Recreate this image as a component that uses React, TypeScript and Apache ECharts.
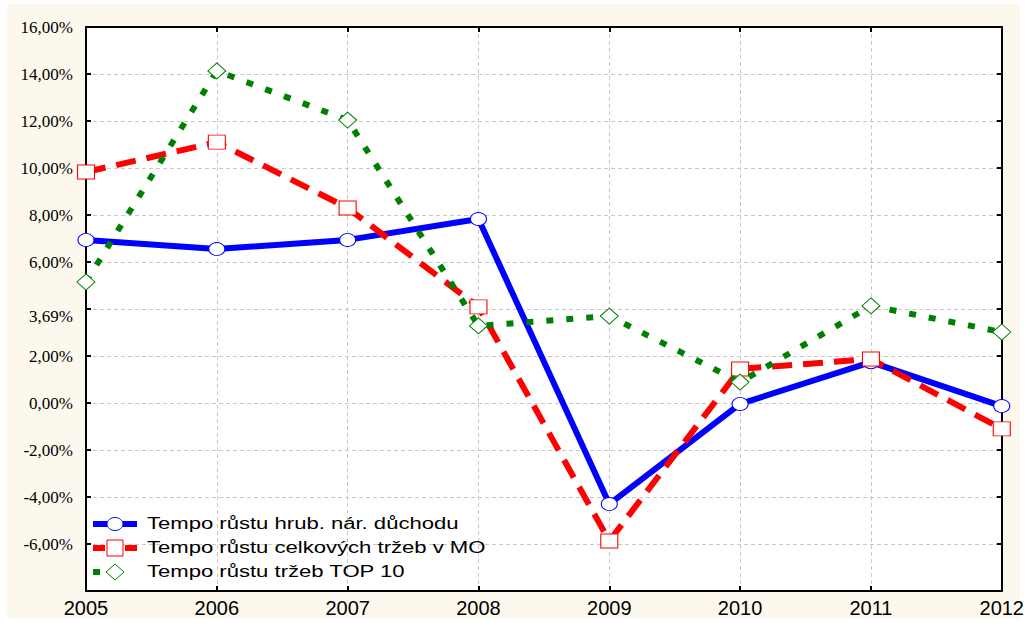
import React, { useEffect, useRef } from "react";
import * as echarts from "echarts";

const years = ["2005", "2006", "2007", "2008", "2009", "2010", "2011", "2012"];
const seriesNames = [
  "Tempo růstu hrub. nár. důchodu",
  "Tempo růstu celkových tržeb v MO",
  "Tempo růstu tržeb TOP 10",
];
const hndValues = [6.94, 6.55, 6.94, 7.83, -4.3, -0.04, 1.74, -0.13];
const moValues = [9.83, 11.1, 8.3, 4.09, -5.87, 1.45, 1.87, -1.1];
const top10Values = [5.15, 14.13, 12.04, 3.28, 3.7, 0.89, 4.13, 3.02];
const yMin = -8;
const yMax = 16;
const yStep = 2;

const fmtY = (v: number) =>
  v === yMin ? "" : v === 4 ? "{low|3,69%}" : "{n|" + v.toFixed(2).replace(".", ",") + "%}";

const SANS = "Liberation Sans";
const SERIF = "serif";

export default function App() {
  const ref = useRef<HTMLDivElement>(null);
  useEffect(() => {
    if (!ref.current) return;
    const chart = echarts.init(ref.current, null, { renderer: "svg" });
    const grid = { left: 86, right: 24, top: 27, bottom: 32 };
    const axisLine = { show: true, onZero: false, lineStyle: { color: "#000", width: 2 } };
    const tick = { show: true, inside: true, length: 5, lineStyle: { color: "#000", width: 2 } };
    const split = { show: true, lineStyle: { color: "#c8c8c8", type: [4, 3], width: 1 } };
    const legendY = [524, 548, 572];
    const lx = 93;
    const textX = 147;
    const legendText = (i: number) => ({
      type: "text",
      x: textX,
      y: legendY[i],
      scaleX: 1.38,
      style: {
        text: seriesNames[i],
        fontFamily: SANS,
        fontSize: 16,
        fill: "#000",
        verticalAlign: "middle",
        align: "left",
      },
      z: 100,
    });
    const serifLabel = { fontFamily: SERIF, fontSize: 17, color: "#000" };
    chart.setOption({
      animation: false,
      backgroundColor: "transparent",
      textStyle: { fontFamily: SANS },
      grid: { ...grid, show: true, backgroundColor: "#fff", borderColor: "#000", borderWidth: 0 },
      xAxis: [
        {
          type: "category",
          data: years,
          boundaryGap: false,
          axisLine,
          axisTick: tick,
          splitLine: split,
          axisLabel: {
            color: "#000",
            fontFamily: SANS,
            fontSize: 20,
            margin: 7,
          },
        },
        {
          type: "category",
          data: years,
          boundaryGap: false,
          position: "top",
          axisLine,
          axisTick: tick,
          axisLabel: { show: false },
          splitLine: { show: false },
        },
      ],
      yAxis: [
        {
          type: "value",
          min: yMin,
          max: yMax,
          interval: yStep,
          axisLine,
          axisTick: tick,
          splitLine: split,
          axisLabel: {
            color: "#000",
            fontFamily: SERIF,
            fontSize: 17,
            margin: 13,
            formatter: fmtY,
            rich: {
              n: { ...serifLabel },
              low: { ...serifLabel, padding: [15, 0, 0, 0] },
            },
          },
        },
        {
          type: "value",
          min: yMin,
          max: yMax,
          interval: yStep,
          position: "right",
          axisLine,
          axisTick: tick,
          axisLabel: { show: false },
          splitLine: { show: false },
        },
      ],
      series: [
        {
          name: seriesNames[0],
          type: "line",
          data: hndValues,
          symbol: "circle",
          symbolSize: [16, 13],
          showAllSymbol: true,
          lineStyle: { color: "#0000ff", width: 6 },
          itemStyle: { color: "#fff", borderColor: "#0000ff", borderWidth: 1 },
          z: 3,
        },
        {
          name: seriesNames[1],
          type: "line",
          data: moValues,
          symbol: "rect",
          symbolSize: [17, 14],
          lineStyle: { color: "#ff0000", width: 6, type: [20, 11] },
          itemStyle: { color: "#fff", borderColor: "#ff0000", borderWidth: 1 },
          z: 4,
        },
        {
          name: seriesNames[2],
          type: "line",
          data: top10Values,
          symbol: "diamond",
          symbolSize: [18, 16],
          lineStyle: { color: "#008000", width: 6, type: [7, 13] },
          itemStyle: { color: "#fff", borderColor: "#008000", borderWidth: 1 },
          z: 5,
        },
      ],
      graphic: [
        { type: "line", shape: { x1: lx, y1: legendY[0], x2: lx + 44, y2: legendY[0] }, style: { stroke: "#0000ff", lineWidth: 6 }, z: 100 },
        { type: "ellipse", shape: { cx: lx + 22, cy: legendY[0], rx: 8, ry: 6.5 }, style: { fill: "#fff", stroke: "#0000ff", lineWidth: 1 }, z: 101 },
        legendText(0),
        { type: "line", shape: { x1: lx, y1: legendY[1], x2: lx + 12, y2: legendY[1] }, style: { stroke: "#ff0000", lineWidth: 6 }, z: 100 },
        { type: "line", shape: { x1: lx + 32, y1: legendY[1], x2: lx + 44, y2: legendY[1] }, style: { stroke: "#ff0000", lineWidth: 6 }, z: 100 },
        { type: "rect", shape: { x: lx + 14, y: legendY[1] - 8, width: 16, height: 16 }, style: { fill: "#fff", stroke: "#ff0000", lineWidth: 1 }, z: 101 },
        legendText(1),
        { type: "line", shape: { x1: lx, y1: legendY[2], x2: lx + 7, y2: legendY[2] }, style: { stroke: "#008000", lineWidth: 6 }, z: 100 },
        { type: "polygon", shape: { points: [[lx + 22, legendY[2] - 8], [lx + 31, legendY[2]], [lx + 22, legendY[2] + 8], [lx + 13, legendY[2]]] }, style: { fill: "#fff", stroke: "#008000", lineWidth: 1 }, z: 101 },
        legendText(2),
      ],
    });
    return () => chart.dispose();
  }, []);
  return (
    <div style={{ position: "fixed", left: 0, top: 0, width: 1027, height: 623, background: "#fff" }}>
      <div style={{ position: "absolute", left: 7, top: 4, width: 1013, height: 614, background: "#fdf8ee" }} />
      <div ref={ref} style={{ position: "absolute", left: 0, top: 0, width: 1027, height: 623 }} />
    </div>
  );
}
